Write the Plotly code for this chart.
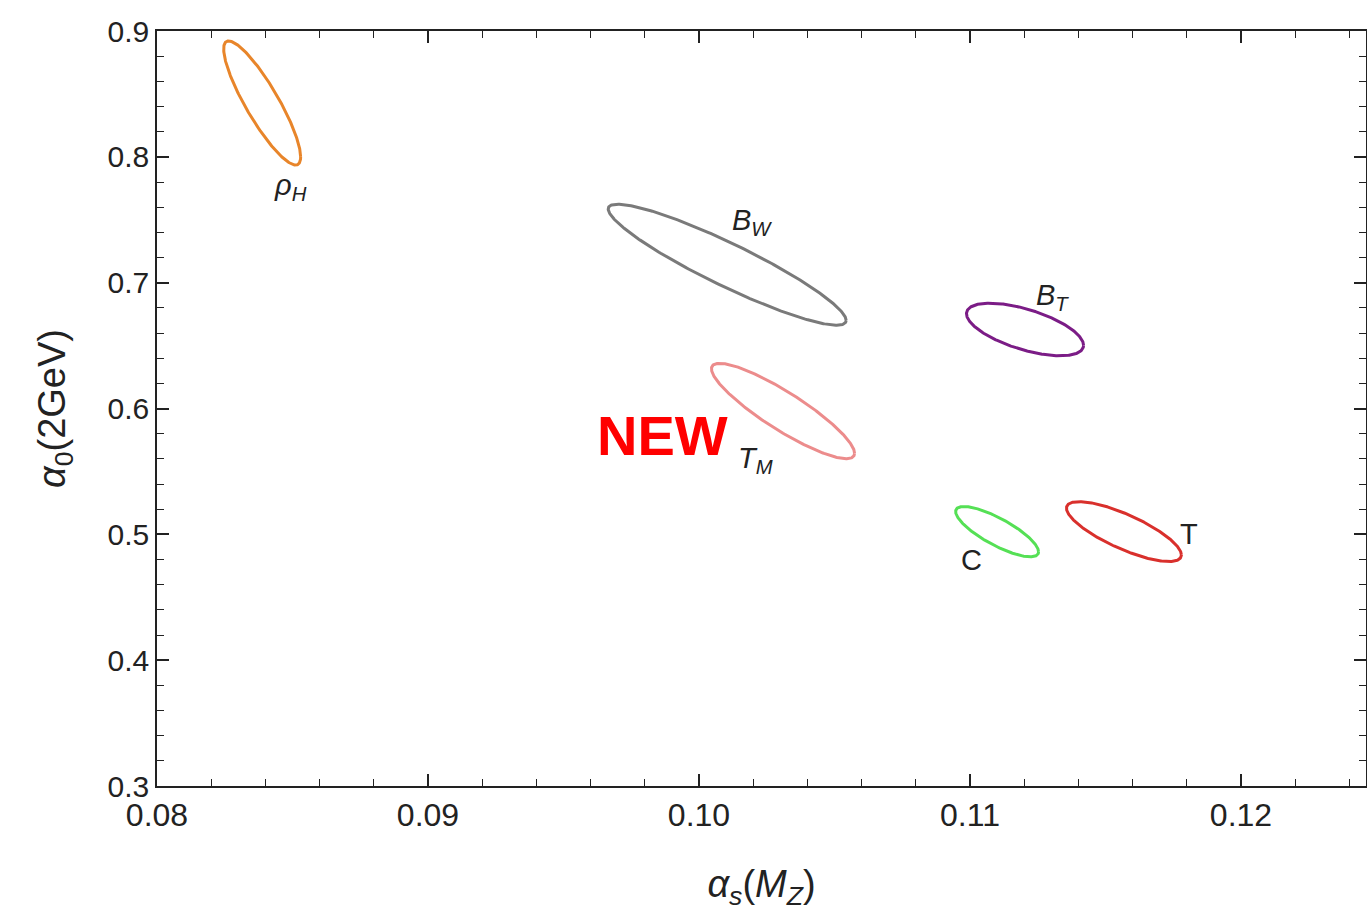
import numpy as np
import plotly.graph_objects as go

# Fit results: centre and 1-sigma widths with correlation for each observable
names = ["rho_H", "B_W", "T_M", "B_T", "C", "T"]
alpha_s = [0.08388, 0.10104, 0.10310, 0.11203, 0.11100, 0.11568]
alpha_0 = [0.8428, 0.7143, 0.5980, 0.6628, 0.5021, 0.5022]
sigma_as = [0.00142, 0.00439, 0.00264, 0.00216, 0.00153, 0.00212]
sigma_a0 = [0.0493, 0.0481, 0.0379, 0.0209, 0.0200, 0.0238]
corr = [-0.87, -0.92, -0.885, -0.60, -0.80, -0.78]
colors = ["#E8852A", "#7A7A7A", "#EC8C8C", "#7B1C86", "#55E055", "#D9302C"]

x_ticks = [0.08, 0.09, 0.10, 0.11, 0.12]
y_ticks = [0.3, 0.4, 0.5, 0.6, 0.7, 0.8, 0.9]

fig = go.Figure()
t = np.linspace(0, 2 * np.pi, 361)
for i, n in enumerate(names):
    r = corr[i]
    xs = alpha_s[i] + sigma_as[i] * np.cos(t)
    ys = alpha_0[i] + sigma_a0[i] * (r * np.cos(t) + np.sqrt(1 - r * r) * np.sin(t))
    fig.add_trace(go.Scatter(x=xs, y=ys, mode="lines", name=n,
                             line=dict(color=colors[i], width=3), showlegend=False,
                             hoverinfo="skip"))

FONT = "Liberation Sans, Arial, sans-serif"
labels = [
    (0.08494, 0.7760, "<i>ρ</i><sub><i>H</i></sub>"),
    (0.10196, 0.7480, "<i>B</i><sub><i>W</i></sub>"),
    (0.10207, 0.5590, "<i>T</i><sub><i>M</i></sub>"),
    (0.11303, 0.6890, "<i>B</i><sub><i>T</i></sub>"),
    (0.11004, 0.4796, "C"),
    (0.11808, 0.5005, "T"),
]
for x, y, txt in labels:
    fig.add_annotation(x=x, y=y, xref="x", yref="y", text=txt, showarrow=False,
                       font=dict(family=FONT, size=29, color="#222222"),
                       xanchor="center", yanchor="middle")

fig.add_annotation(x=0.09867, y=0.5789, xref="x", yref="y", text="<b>NEW</b>",
                   showarrow=False, font=dict(family=FONT, size=56, color="#FF0000"),
                   xanchor="center", yanchor="middle")

x_end = 0.08 + (1366 - 157) / 27100.0

fig.update_xaxes(
    range=[0.08, x_end], tickvals=x_ticks, ticktext=[f"{v:.2f}" for v in x_ticks],
    ticks="inside", ticklen=12, tickwidth=1.5, tickcolor="#222222",
    showline=True, linecolor="#222222", linewidth=1.5, mirror="ticks",
    showgrid=False, zeroline=False,
    minor=dict(dtick=0.002, tick0=0.08, ticks="inside", ticklen=7, tickwidth=1,
               tickcolor="#222222", showgrid=False),
    tickfont=dict(family=FONT, size=32, color="#222222"),
    title=dict(text="<i>α</i><sub><i>s</i></sub>(<i>M</i><sub><i>Z</i></sub>)",
               font=dict(family=FONT, size=38, color="#222222"), standoff=38),
)
fig.update_yaxes(
    range=[0.3, 0.9], tickvals=y_ticks, ticktext=[f"{v:.1f}" for v in y_ticks],
    ticks="inside", ticklen=12, tickwidth=1.5, tickcolor="#222222",
    showline=True, linecolor="#222222", linewidth=1.5, mirror="ticks",
    showgrid=False, zeroline=False,
    minor=dict(dtick=0.02, tick0=0.3, ticks="inside", ticklen=7, tickwidth=1,
               tickcolor="#222222", showgrid=False),
    tickfont=dict(family=FONT, size=30, color="#222222"),
    title=dict(text="<i>α</i><sub>0</sub>(2GeV)",
               font=dict(family=FONT, size=38, color="#222222"), standoff=30),
)

fig.update_layout(
    width=1367, height=912,
    margin=dict(l=157, r=1, t=31, b=126, autoexpand=False),
    paper_bgcolor="white", plot_bgcolor="white",
)

fig.write_html("out.html")
